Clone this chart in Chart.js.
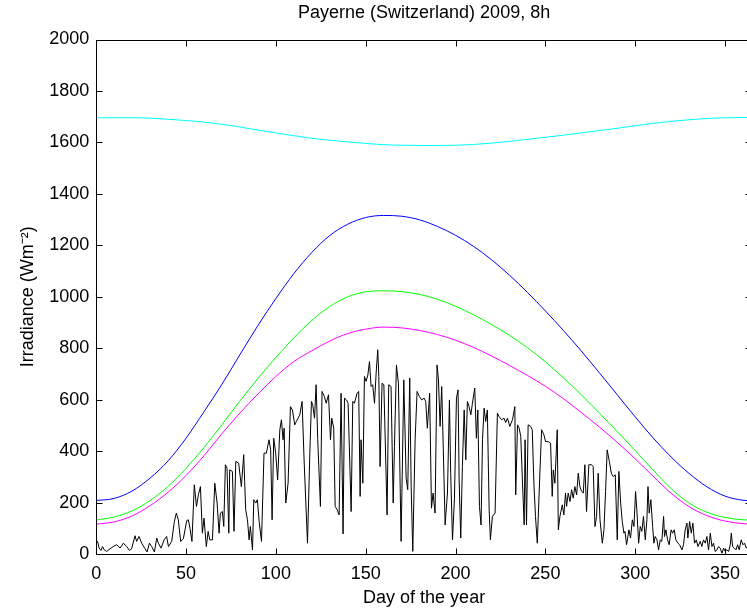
<!DOCTYPE html>
<html>
<head>
<meta charset="utf-8">
<script src="https://cdn.jsdelivr.net/npm/chart.js@4/dist/chart.umd.min.js"></script>
<style>
  html, body { margin: 0; padding: 0; background: #fff; overflow: hidden; }
  canvas { display: block; }
</style>
</head>
<body>
<canvas id="chart" width="752" height="612"></canvas>
<script>
// tick labels
const xTicks = [0, 50, 100, 150, 200, 250, 300, 350];
const yTicks = [0, 200, 400, 600, 800, 1000, 1200, 1400, 1600, 1800, 2000];

const curveDays = [0, 10, 20, 30, 40, 50, 60, 70, 80, 90, 100, 110, 120, 130, 140, 150, 160, 170, 180,
  190, 200, 210, 220, 230, 240, 250, 260, 270, 280, 290, 300, 310, 320, 330, 340, 350, 360, 365];

const cyanVals = [1696, 1696, 1696, 1694, 1690, 1685, 1679, 1670, 1660, 1648, 1637, 1626, 1616, 1608,
  1602, 1596, 1591, 1589, 1588, 1588, 1589, 1592, 1597, 1604, 1612, 1620, 1628, 1637, 1646, 1655, 1665,
  1674, 1682, 1688, 1693, 1696, 1697, 1697];

const blueVals = [208, 216, 245, 295, 362, 450, 553, 660, 775, 888, 993, 1090, 1172, 1238, 1282, 1308,
  1316, 1313, 1299, 1273, 1239, 1196, 1144, 1084, 1017, 945, 869, 789, 705, 619, 533, 451, 377, 313,
  261, 225, 209, 207];

const greenVals = [132, 144, 168, 208, 263, 333, 414, 503, 595, 682, 764, 840, 908, 962, 1000, 1019,
  1023, 1020, 1009, 990, 963, 930, 892, 850, 802, 747, 685, 619, 548, 476, 402, 326, 254, 198, 162,
  142, 133, 132];

const magentaVals = [116, 125, 148, 188, 240, 305, 382, 468, 548, 622, 690, 748, 790, 828, 857, 874,
  882, 879, 869, 853, 831, 803, 770, 733, 694, 652, 604, 550, 494, 434, 370, 302, 236, 184, 149, 128,
  118, 116];

// measured irradiance, [day, W/m2]
const measured = [
  [0, 45], [0.8, 49], [1.6, 23], [2.7, 14], [3.5, 29], [4.5, 16], [5.8, 10], [7.7, 20], [9.5, 29],
  [11.4, 36], [13.3, 23], [15.1, 42], [17.0, 29], [18.5, 14], [19.7, 20], [21.6, 71], [22.5, 49],
  [23.8, 68], [25.3, 42], [27.2, 20], [28.3, 8], [29.6, 42], [30.9, 29], [32.4, 8], [33.7, 62],
  [34.6, 42], [36.1, 23], [37.8, 55], [39.2, 68], [40.2, 29], [42.0, 49], [43.5, 126], [44.6, 159],
  [45.7, 133], [47.0, 49], [48.5, 59], [50.4, 130], [51.3, 133], [52.2, 100], [53.3, 49], [54.6, 269],
  [55.8, 185], [56.9, 230], [58.0, 262], [59.1, 81], [60.0, 139], [60.6, 88], [61.3, 29], [62.3, 88],
  [63.2, 55], [64.7, 55], [66.0, 275], [67.3, 198], [68.4, 81], [69.1, 159], [70.2, 165], [71.0, 107],
  [71.9, 347], [72.8, 334], [73.8, 81], [74.3, 327], [75.8, 321], [76.7, 88], [77.7, 360], [79.3, 353],
  [80.8, 262], [82.1, 386], [83.2, 172], [84.2, 133], [85.1, 55], [85.8, 107], [87.0, 16], [87.7, 211],
  [88.8, 198], [89.7, 211], [90.7, 126], [92.0, 49], [93.4, 392], [94.7, 392], [96.2, 444], [97.1, 405],
  [97.9, 133], [98.8, 450], [99.9, 392], [101.0, 288], [102.2, 483], [103.1, 522], [104.0, 444],
  [104.6, 489], [105.5, 198], [106.8, 275], [108.1, 573], [109.2, 560], [110.5, 502], [111.4, 515],
  [113.3, 541], [114.6, 593], [115.7, 366], [117.6, 42], [118.9, 392], [119.8, 593], [120.5, 580],
  [121.5, 528], [122.4, 658], [123.3, 444], [124.8, 185], [125.7, 632], [127.0, 612], [128.0, 586],
  [129.3, 619], [130.4, 444], [131.1, 528], [132.2, 489], [133.0, 185], [134.1, 172], [135.2, 152],
  [136.3, 625], [137.4, 78], [138.2, 606], [139.3, 599], [140.2, 586], [141.9, 165], [142.8, 593],
  [143.7, 586], [145.2, 625], [146.1, 632], [146.9, 224], [147.4, 444], [148.4, 275], [149.3, 690],
  [150.2, 671], [151.2, 696], [152.1, 748], [153.0, 651], [153.9, 658], [154.9, 586], [155.8, 703],
  [156.7, 794], [157.3, 690], [158.0, 340], [159.1, 664], [160.1, 658], [161.9, 152], [162.8, 658],
  [164.1, 651], [165.3, 198], [166.0, 418], [167.1, 735], [168.2, 664], [169.7, 49], [171.2, 677],
  [172.5, 295], [173.4, 250], [174.5, 684], [175.3, 262], [176.2, 10], [177.5, 444], [178.6, 632],
  [179.9, 612], [181.2, 599], [182.5, 606], [183.4, 593], [184.3, 489], [185.6, 625], [186.6, 178],
  [187.5, 237], [188.6, 159], [189.7, 735], [190.5, 677], [191.4, 496], [192.3, 651], [193.2, 405],
  [194.2, 113], [195.5, 237], [196.6, 599], [197.3, 314], [198.3, 55], [199.4, 217], [200.5, 606],
  [201.4, 638], [202.0, 288], [202.9, 62], [203.8, 340], [204.8, 560], [205.7, 366], [206.6, 593],
  [207.5, 573], [208.5, 541], [209.4, 586], [210.7, 645], [211.6, 450], [212.4, 560], [213.3, 185],
  [214.2, 113], [215.0, 444], [215.9, 567], [216.8, 515], [217.7, 560], [218.7, 172], [219.4, 55],
  [220.5, 146], [222.0, 159], [223.3, 548], [224.2, 534], [225.7, 522], [227.0, 528], [227.9, 511],
  [228.9, 528], [230.2, 496], [231.7, 522], [233.0, 573], [233.5, 230], [234.5, 502], [235.4, 489],
  [236.3, 457], [237.2, 288], [238.2, 113], [238.7, 444], [239.5, 113], [240.4, 502], [241.8, 496],
  [242.7, 483], [243.6, 275], [244.5, 146], [245.5, 42], [246.8, 288], [247.9, 483], [249.2, 463],
  [250.1, 437], [251.6, 437], [252.9, 431], [253.8, 224], [254.4, 327], [255.3, 275], [256.6, 483],
  [257.2, 94], [258.1, 146], [259.4, 191], [260.3, 152], [261.2, 237], [261.8, 185], [262.7, 237],
  [263.7, 204], [264.6, 250], [265.5, 217], [266.4, 262], [267.4, 230], [268.3, 314], [269.2, 262],
  [270.2, 243], [271.1, 237], [272.0, 347], [272.9, 165], [274.2, 347], [275.7, 347], [276.6, 340],
  [277.6, 107], [278.5, 146], [279.4, 314], [280.4, 133], [281.7, 42], [282.6, 94], [283.5, 243],
  [284.4, 405], [285.6, 360], [286.7, 314], [287.8, 301], [288.9, 308], [290.0, 55], [290.9, 321],
  [291.9, 198], [292.8, 126], [293.7, 81], [294.3, 88], [295.2, 36], [296.5, 94], [297.4, 62],
  [298.4, 133], [299.3, 107], [300.2, 243], [300.9, 172], [301.9, 42], [302.8, 107], [303.7, 88],
  [304.6, 146], [305.6, 55], [306.5, 133], [307.1, 262], [307.8, 159], [308.7, 211], [309.7, 107],
  [310.4, 42], [311.1, 68], [312.1, 55], [313.0, 16], [313.9, 55], [314.8, 49], [315.8, 146],
  [316.3, 68], [317.1, 94], [318.0, 55], [318.9, 36], [320.0, 94], [320.8, 81], [321.7, 94], [322.6, 55],
  [323.8, 42], [324.7, 36], [326.0, 16], [326.9, 36], [327.8, 94], [328.8, 120], [329.3, 62],
  [330.3, 126], [331.2, 81], [332.1, 120], [333.0, 42], [334.0, 55], [334.9, 29], [336.2, 49],
  [337.1, 29], [338.0, 55], [339.0, 42], [339.9, 68], [340.8, 16], [341.8, 81], [342.7, 29], [343.6, 42],
  [344.5, 10], [345.5, 16], [346.4, 29], [347.3, 23], [348.3, 3], [349.2, 23], [350.1, 10], [351.0, 16],
  [352.0, 10], [352.9, 36], [353.5, 81], [354.2, 29], [355.1, 23], [356.1, 16], [357.0, 36], [357.9, 16],
  [359.0, 55], [359.9, 36], [360.9, 42], [361.8, 23], [363.5, 35], [365, 30]
];

const FONT = 'Liberation Sans, Arial, Helvetica, sans-serif';

function curve(vals, color) {
  return {
    data: curveDays.map((d, i) => ({ x: d, y: vals[i] })),
    borderColor: color,
    borderWidth: 1,
    pointRadius: 0,
    cubicInterpolationMode: 'monotone'
  };
}

// MATLAB style box with inward ticks on all four sides
const boxTicks = {
  id: 'boxTicks',
  afterDatasetsDraw(chart) {
    const { ctx, chartArea: a, scales: { x, y } } = chart;
    const len = 6;
    ctx.save();
    ctx.strokeStyle = '#000';
    ctx.lineWidth = 1;
    ctx.beginPath();
    const l = Math.round(a.left) + 0.5, r = Math.round(a.right) - 0.5;
    const t = Math.round(a.top) + 0.5, b = Math.round(a.bottom) + 0.5;
    ctx.rect(l, t, r - l, b - t);
    xTicks.forEach(v => {
      const px = Math.round(x.getPixelForValue(v)) + 0.5;
      ctx.moveTo(px, b); ctx.lineTo(px, b - len);
      ctx.moveTo(px, t); ctx.lineTo(px, t + len);
    });
    yTicks.forEach(v => {
      const py = Math.round(y.getPixelForValue(v)) + 0.5;
      ctx.moveTo(l, py); ctx.lineTo(l + len, py);
      ctx.moveTo(r, py); ctx.lineTo(r - len, py);
    });
    ctx.stroke();
    ctx.restore();
  }
};

new Chart(document.getElementById('chart'), {
  type: 'line',
  data: {
    datasets: [
      curve(cyanVals, '#00ffff'),
      curve(blueVals, '#0000ff'),
      curve(greenVals, '#00ff00'),
      curve(magentaVals, '#ff00ff'),
      {
        data: measured.map(([d, v]) => ({ x: d, y: v })),
        borderColor: '#000000',
        borderWidth: 1,
        pointRadius: 0,
        tension: 0
      }
    ]
  },
  options: {
    responsive: false,
    animation: false,
    events: [],
    layout: { padding: 0 },
    plugins: {
      legend: { display: false },
      tooltip: { enabled: false },
      title: {
        display: true,
        fullSize: false,
        text: 'Payerne (Switzerland) 2009, 8h',
        color: '#000',
        font: { family: FONT, size: 18, weight: 'normal', lineHeight: 1.2 },
        padding: { top: 2, bottom: 15.9 }
      }
    },
    scales: {
      x: {
        type: 'linear',
        min: 0,
        max: 365,
        afterFit(scale) { scale.height = 58; },
        afterBuildTicks(scale) { scale.ticks = xTicks.map(v => ({ value: v })); },
        grid: { display: false, drawTicks: false },
        border: { display: false },
        ticks: {
          autoSkip: false, maxRotation: 0, padding: 9, color: '#000',
          font: { family: FONT, size: 18 },
          callback: v => String(v)
        },
        title: {
          display: true,
          text: 'Day of the year',
          color: '#000',
          font: { family: FONT, size: 18, lineHeight: 1.2 },
          padding: { top: 0, bottom: 3 }
        }
      },
      y: {
        min: 0,
        max: 2000,
        afterFit(scale) { scale.width = 96.2; },
        afterBuildTicks(scale) { scale.ticks = yTicks.map(v => ({ value: v })); },
        grid: { display: false, drawTicks: false },
        border: { display: false },
        ticks: {
          padding: 7, color: '#000',
          font: { family: FONT, size: 18 },
          callback: v => String(v)
        },
        title: {
          display: true,
          text: 'Irradiance (Wm⁻²)',
          color: '#000',
          font: { family: FONT, size: 18, lineHeight: 1.2 },
          padding: { top: 17, bottom: 0 }
        }
      }
    }
  },
  plugins: [boxTicks]
});
</script>
</body>
</html>
